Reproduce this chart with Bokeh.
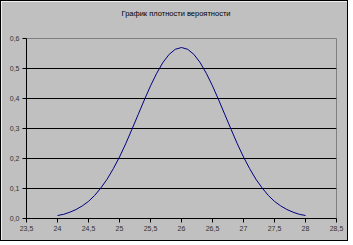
from bokeh.plotting import figure
from bokeh.embed import file_html
from bokeh.resources import INLINE
from bokeh.models import Range1d, FixedTicker, CustomJSTickFormatter

title_text = "График плотности вероятности"
x_vals = [24.0, 24.1, 24.2, 24.3, 24.4, 24.5, 24.6, 24.7, 24.8, 24.9,
          25.0, 25.1, 25.2, 25.3, 25.4, 25.5, 25.6, 25.7, 25.8, 25.9,
          26.0, 26.1, 26.2, 26.3, 26.4, 26.5, 26.6, 26.7, 26.8, 26.9,
          27.0, 27.1, 27.2, 27.3, 27.4, 27.5, 27.6, 27.7, 27.8, 27.9, 28.0]
density = [0.010, 0.014, 0.021, 0.030, 0.042, 0.057, 0.077, 0.102, 0.131, 0.166,
           0.205, 0.249, 0.297, 0.346, 0.395, 0.442, 0.484, 0.520, 0.547, 0.564,
           0.570, 0.564, 0.547, 0.520, 0.484, 0.442, 0.395, 0.346, 0.297, 0.249,
           0.205, 0.166, 0.131, 0.102, 0.077, 0.057, 0.042, 0.030, 0.021, 0.014, 0.010]
x_ticks = [23.5, 24, 24.5, 25, 25.5, 26, 26.5, 27, 27.5, 28, 28.5]
y_ticks = [0.0, 0.1, 0.2, 0.3, 0.4, 0.5, 0.6]
grid_ticks = [0.1, 0.2, 0.3, 0.4, 0.5]

BG = "#c0c0c0"
FONT = "Liberation Sans"

p = figure(width=348, height=241, output_backend="svg", toolbar_location=None,
           x_range=Range1d(23.5, 28.5), y_range=Range1d(0, 0.6),
           min_border_left=25, min_border_right=13, min_border_top=37, min_border_bottom=24)
p.styles = {"border": "1px solid black"}
p.background_fill_color = BG
p.border_fill_color = BG
p.outline_line_color = "#808080"
p.outline_line_width = 1

# blank trailing lines lift the title text higher in the top border
p.title.text = title_text + "\n \n "
p.title.align = "left"
p.title.text_font = FONT
p.title.text_font_size = "7.5px"
p.title.text_font_style = "normal"
p.title.text_color = "black"
p.title.offset = 95
p.title.standoff = 6

p.line(x_vals, density, line_color="#000080", line_width=1)

for ax in (p.xaxis[0], p.yaxis[0]):
    ax.axis_line_color = "black"
    ax.major_tick_line_color = "black"
    ax.minor_tick_line_color = None
    ax.major_tick_in = 0
    ax.major_tick_out = 4
    ax.major_label_text_font = FONT
    ax.major_label_text_font_size = "7px"
    ax.major_label_text_color = "#333333"
    ax.major_label_standoff = 3

p.xaxis.ticker = FixedTicker(ticks=x_ticks)
p.yaxis.ticker = FixedTicker(ticks=y_ticks)
p.xaxis.formatter = CustomJSTickFormatter(code="return (Math.round(tick*10)/10).toString().replace('.', ',');")
p.yaxis.formatter = CustomJSTickFormatter(code="return tick.toFixed(1).replace('.', ',');")

p.xgrid.visible = False
p.ygrid.ticker = FixedTicker(ticks=grid_ticks)
p.ygrid.grid_line_color = "black"
p.ygrid.grid_line_width = 1

open("out.html", "w").write(file_html(p, INLINE))
